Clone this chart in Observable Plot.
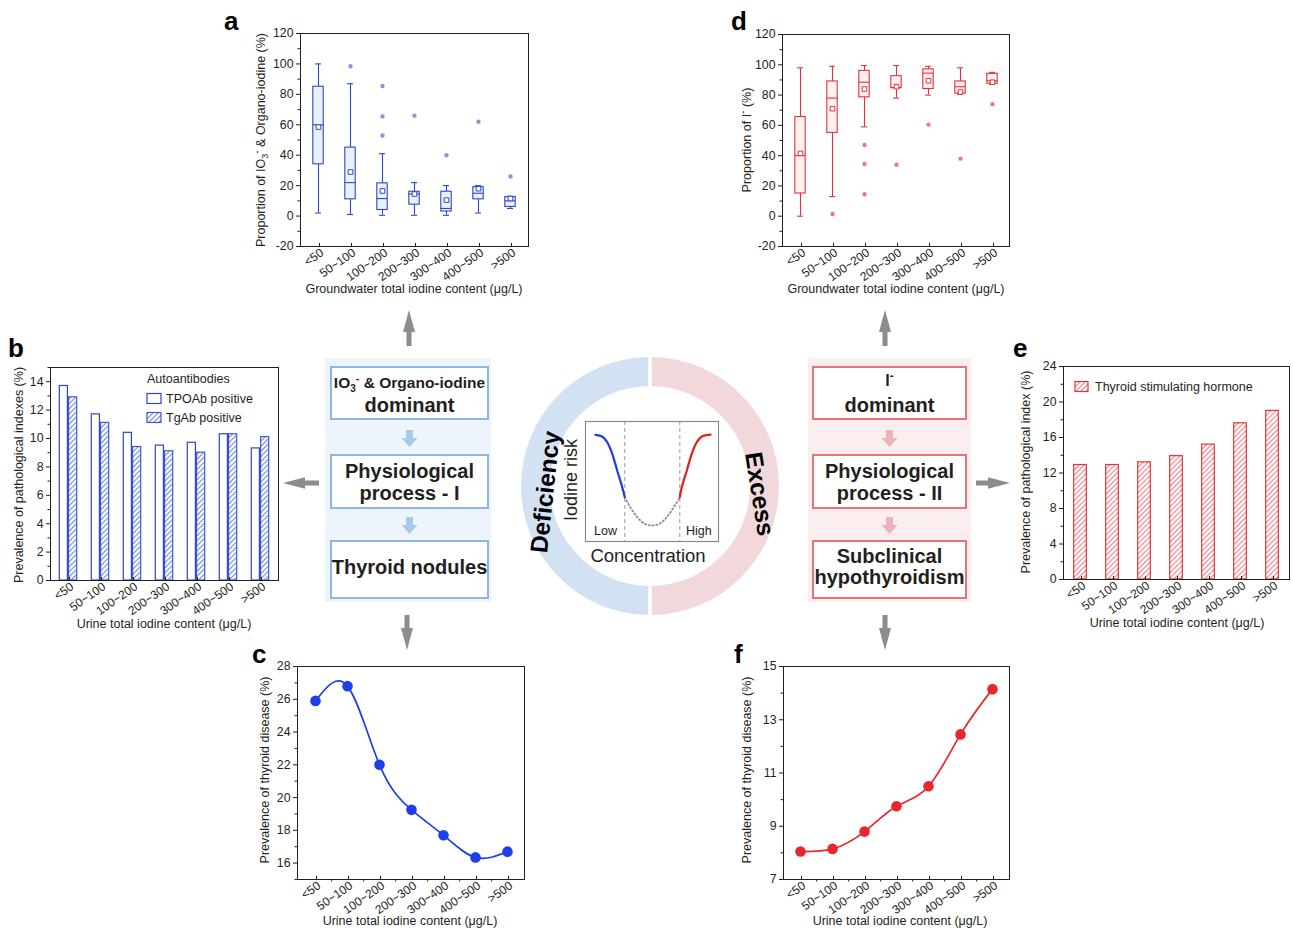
<!DOCTYPE html>
<html><head><meta charset="utf-8">
<script src="https://cdn.jsdelivr.net/npm/d3@7"></script>
<script src="https://cdn.jsdelivr.net/npm/@observablehq/plot@0.6"></script>
<style>
body{margin:0;background:#fff;}
#fig{position:relative;width:1293px;height:931px;overflow:hidden;background:#fff;}
</style></head><body>
<div id="fig"></div>
<script>
// ---------------- data ----------------
const groups = ["<50","50~100","100~200","200~300","300~400","400~500",">500"];

// panel a: IO3- & organo-iodine proportion (%), box summaries
const aMin  = [2, 1, 0.5, 0.5, 0.5, 2, 5];
const aQ1   = [34, 11, 4, 7.5, 3, 11, 6];
const aMed  = [60, 22, 11.5, 14.5, 5, 15, 10];
const aQ3   = [85, 45, 21.5, 16, 16, 19, 12.5];
const aMax  = [100, 87, 41, 22, 20, 20, 13];
const aMean = [58.5, 29, 16.5, 14.5, 10.5, 18, 11.5];
const aOutGroup = ["50~100","100~200","100~200","100~200","200~300","300~400","400~500",">500"];
const aOutValue = [98.5, 85.5, 65.5, 53, 66, 40, 62, 26];

// panel d: I- proportion (%)
const dMin  = [0, 13, 59, 78, 80, 80.5, 87];
const dQ1   = [15, 55, 78.5, 84.5, 84, 81, 87.5];
const dMed  = [40, 78, 88.5, 85, 94.5, 85.5, 89.5];
const dQ3   = [65.5, 89, 96, 92.5, 97, 89, 94];
const dMax  = [98, 99, 99.5, 99.5, 99, 98, 95];
const dMean = [41.5, 71, 84, 85.5, 89.5, 82, 88.5];
const dOutGroup = ["50~100","100~200","100~200","100~200","200~300","300~400","400~500",">500"];
const dOutValue = [1.5, 47, 34.5, 14.5, 34, 60.5, 38, 74];

// panel b: autoantibodies (%)
const tpoab = [13.7, 11.7, 10.4, 9.5, 9.7, 10.3, 9.3];
const tgab  = [12.9, 11.1, 9.4, 9.1, 9.0, 10.3, 10.1];

// panel e: TSH (%)
const tsh = [12.9, 12.9, 13.2, 13.9, 15.2, 17.6, 19.0];

// panel c / f: prevalence of thyroid disease (%)
const cPrev = [25.9, 26.8, 22.0, 19.25, 17.7, 16.35, 16.7];
const fPrev = [8.05, 8.15, 8.8, 9.75, 10.5, 12.45, 14.15];

// tick values
const ticksAD = [-20, 0, 20, 40, 60, 80, 100, 120];
const minorAD = [-10, 10, 30, 50, 70, 90, 110];
const ticksB = [0, 2, 4, 6, 8, 10, 12, 14];
const minorB = [1, 3, 5, 7, 9, 11, 13, 15];
const ticksE = [0, 4, 8, 12, 16, 20, 24];
const minorE = [2, 6, 10, 14, 18, 22];
const ticksC = [16, 18, 20, 22, 24, 26, 28];
const minorC = [15, 17, 19, 21, 23, 25, 27];
const ticksF = [7, 9, 11, 13, 15];
const minorF = [8, 10, 12, 14];

// schematic risk curve (concentration vs. iodine risk)
const riskLowX  = [7.5, 12.5, 16.3, 20.1, 23.8, 27.6, 29.5];
const riskLowY  = [88.9, 87.5, 82.8, 73.1, 59.2, 45.3, 37];
const riskMidX  = [29.5, 34, 38.8, 44, 50, 56, 61.2, 66, 70.9];
const riskMidY  = [37, 28, 20.5, 15, 13.3, 15, 20.5, 28, 37];
const riskHighX = [70.9, 72.4, 76.2, 79.9, 83.7, 87.5, 92.5, 94];
const riskHighY = [37, 45.3, 59.2, 73.1, 82.8, 87.5, 88.9, 89];
const thresholds = [29.5, 70.9];

// ---------------- helpers ----------------
const font = '"Liberation Sans", Arial, Helvetica, sans-serif';
const ink = "#231f20";
const fig = document.getElementById("fig");
function baseStyle(){ return {fontFamily: font, fontSize: "12.3px", color: ink, background: "transparent", overflow: "visible"}; }
function place(el, left, top, w, h){
  const d = document.createElement("div");
  d.style.cssText = `position:absolute;left:${left}px;top:${top}px;width:${w}px;height:${h}px;`;
  d.appendChild(el); fig.appendChild(d);
}
const zip = (xs, ys) => xs.map((x, i) => ({x, y: ys[i]}));

// overlay svg (below plots)
const ov = d3.select(fig).append("svg")
  .attr("width", 1293).attr("height", 931)
  .style("position", "absolute").style("left", 0).style("top", 0)
  .style("font-family", font).attr("fill", ink);
const defs = ov.append("defs");
function hatch(id, color, bg){
  const p = defs.append("pattern").attr("id", id).attr("patternUnits", "userSpaceOnUse")
    .attr("width", 3.6).attr("height", 3.6).attr("patternTransform", "rotate(45)");
  p.append("rect").attr("width", 3.6).attr("height", 3.6).attr("fill", bg);
  p.append("line").attr("x1", 0.6).attr("y1", 0).attr("x2", 0.6).attr("y2", 3.6).attr("stroke", color).attr("stroke-width", 1.1);
}
hatch("hatchB", "#6f82de", "#ffffff");
hatch("hatchR", "#ee7d83", "#ffffff");

function axesFor(major, minor, xMinorShift){
  const m = [
    Plot.axisY({ticks: major, tickSize: 4, tickPadding: 3, tickFormat: d => String(d), label: null}),
    Plot.axisY({ticks: minor, tickSize: 2.5, tickFormat: () => "", label: null}),
    Plot.axisX({tickSize: 4, tickPadding: 0, tickRotate: -35, lineAnchor: "top", dx: 1, dy: -3, fontSize: 12, label: null}),
    Plot.frame({stroke: ink})
  ];
  if (xMinorShift) m.push(Plot.axisX({ticks: groups.slice(0, 6), tickSize: 2.5, tickFormat: () => "", dx: xMinorShift, label: null}));
  return m;
}

// ---------------- box panels a & d ----------------
function boxPlot(opt){
  const rows = groups.map((g, i) => ({g, lo: opt.lo[i], q1: opt.q1[i], med: opt.med[i], q3: opt.q3[i], hi: opt.hi[i], mean: opt.mean[i]}));
  const outs = opt.outG.map((g, i) => ({g, v: opt.outV[i]}));
  const s = opt.stroke;
  return Plot.plot({
    width: opt.width, height: opt.height,
    marginLeft: opt.ml, marginRight: opt.mr, marginTop: opt.mt, marginBottom: opt.mb,
    style: baseStyle(),
    x: {type: "band", domain: groups, padding: 0},
    y: {domain: [-20, 120]},
    marks: [
      Plot.ruleX(rows, {x: "g", y1: "lo", y2: "q1", stroke: s, strokeWidth: 1.1}),
      Plot.ruleX(rows, {x: "g", y1: "q3", y2: "hi", stroke: s, strokeWidth: 1.1}),
      Plot.tickY(rows, {x: "g", y: "lo", stroke: s, insetLeft: 13, insetRight: 13, strokeWidth: 1.1}),
      Plot.tickY(rows, {x: "g", y: "hi", stroke: s, insetLeft: 13, insetRight: 13, strokeWidth: 1.1}),
      Plot.barY(rows, {x: "g", y1: "q1", y2: "q3", fill: opt.fill, stroke: s, strokeWidth: 1.1, insetLeft: 10.8, insetRight: 10.8}),
      Plot.tickY(rows, {x: "g", y: "med", stroke: s, insetLeft: 10.8, insetRight: 10.8, strokeWidth: 1.1}),
      Plot.dot(rows, {x: "g", y: "mean", symbol: "square", r: 2.6, fill: "white", stroke: s, strokeWidth: 1}),
      Plot.dot(outs, {x: "g", y: "v", r: 2.2, fill: opt.outFill}),
      ...axesFor(ticksAD, minorAD)
    ]
  });
}
place(boxPlot({width: 320, height: 290, ml: 80, mr: 12, mt: 13, mb: 64,
  lo: aMin, q1: aQ1, med: aMed, q3: aQ3, hi: aMax, mean: aMean, outG: aOutGroup, outV: aOutValue,
  stroke: "#3047c9", fill: "#e7f3fb", outFill: "#7d9be3"}), 220, 20, 320, 290);
place(boxPlot({width: 320, height: 290, ml: 82, mr: 11, mt: 14, mb: 64,
  lo: dMin, q1: dQ1, med: dMed, q3: dQ3, hi: dMax, mean: dMean, outG: dOutGroup, outV: dOutValue,
  stroke: "#e4323c", fill: "#fdf0f0", outFill: "#e77b82"}), 700, 20, 320, 290);

// ---------------- panel b ----------------
const bRows = groups.map((g, i) => ({g, tpo: tpoab[i], tg: tgab[i]}));
place(Plot.plot({
  width: 290, height: 290, marginLeft: 50, marginRight: 12, marginTop: 12, marginBottom: 65,
  style: baseStyle(),
  x: {type: "band", domain: groups, padding: 0},
  y: {domain: [0, 15]},
  marks: [
    Plot.barY(bRows, {x: "g", y: "tpo", fill: "white", stroke: "#2f45c8", strokeWidth: 1.2, insetLeft: 7.3, insetRight: 16.6}),
    Plot.barY(bRows, {x: "g", y: "tg", fill: "url(#hatchB)", stroke: "#4257d0", strokeWidth: 1.2, insetLeft: 16.6, insetRight: 7.3}),
    ...axesFor(ticksB, minorB)
  ]
}), 0, 355, 290, 290);

// ---------------- panel e ----------------
const eRows = groups.map((g, i) => ({g, v: tsh[i]}));
place(Plot.plot({
  width: 293, height: 290, marginLeft: 63, marginRight: 4, marginTop: 11, marginBottom: 66,
  style: baseStyle(),
  x: {type: "band", domain: groups, padding: 0},
  y: {domain: [0, 24]},
  marks: [
    Plot.barY(eRows, {x: "g", y: "v", fill: "url(#hatchR)", stroke: "#e5323b", strokeWidth: 1.2, insetLeft: 9.7, insetRight: 9.7}),
    ...axesFor(ticksE, minorE)
  ]
}), 1000, 355, 293, 290);

// ---------------- panels c & f ----------------
function linePlot(vals, domain, major, minor, color, w, ml){
  const rows = groups.map((g, i) => ({g, v: vals[i]}));
  const half = (w - ml - 11) / 7 / 2;
  return Plot.plot({
    width: w, height: 276, marginLeft: ml, marginRight: 11, marginTop: 11, marginBottom: 52,
    style: baseStyle(),
    x: {type: "band", domain: groups, padding: 0},
    y: {domain},
    marks: [
      Plot.line(rows, {x: "g", y: "v", stroke: color, strokeWidth: 1.7, curve: "natural"}),
      Plot.dot(rows, {x: "g", y: "v", r: 5.3, fill: color}),
      ...axesFor(major, minor, half)
    ]
  });
}
place(linePlot(cPrev, [15, 28], ticksC, minorC, "#1f3fe6", 305, 67), 230, 655, 305, 276);
place(linePlot(fPrev, [7, 15], ticksF, minorF, "#e8262e", 310, 73), 710, 655, 310, 276);

// ---------------- schematic inner plot ----------------
place(Plot.plot({
  width: 133, height: 120, margin: 0,
  style: {background: "transparent", overflow: "visible"},
  x: {domain: [0, 100], axis: null},
  y: {domain: [0, 100], axis: null},
  marks: [
    Plot.ruleX(thresholds, {stroke: "#9a9a9a", strokeDasharray: "4,3", strokeWidth: 1}),
    Plot.line(zip(riskMidX, riskMidY), {x: "x", y: "y", stroke: "#8a8a8a", strokeWidth: 1.8, strokeDasharray: "1.2,2.6", curve: "catmull-rom"}),
    Plot.line(zip(riskLowX, riskLowY), {x: "x", y: "y", stroke: "#1f3fe0", strokeWidth: 2.2, curve: "catmull-rom"}),
    Plot.line(zip(riskHighX, riskHighY), {x: "x", y: "y", stroke: "#e0201e", strokeWidth: 2.2, curve: "catmull-rom"}),
    Plot.frame({stroke: "#8a8a8a", strokeWidth: 1.2})
  ]
}), 585, 421, 133, 120);

// ---------------- overlay drawing ----------------
// panel letters
[["a", 224, 30], ["d", 731, 30], ["b", 8, 357], ["e", 1013, 357], ["c", 252, 663], ["f", 734, 663]].forEach(([t, x, y]) => {
  ov.append("text").attr("x", x).attr("y", y).attr("font-size", 26).attr("font-weight", "bold").attr("fill", "#000").text(t);
});

// x axis titles
[["Groundwater total iodine content (\u03bcg/L)", 414, 293],
 ["Groundwater total iodine content (\u03bcg/L)", 896, 293],
 ["Urine total iodine content (\u03bcg/L)", 164, 628],
 ["Urine total iodine content (\u03bcg/L)", 1177, 627],
 ["Urine total iodine content (\u03bcg/L)", 410, 925],
 ["Urine total iodine content (\u03bcg/L)", 900, 925]].forEach(([t, x, y]) => {
  ov.append("text").attr("x", x).attr("y", y).attr("text-anchor", "middle").attr("font-size", 12.5).text(t);
});

// y axis titles
function yTitle(x, y, parts){
  const t = ov.append("text").attr("transform", `translate(${x},${y}) rotate(-90)`).attr("text-anchor", "middle").attr("font-size", 12.5);
  parts.forEach(p => { const s = t.append("tspan").text(p.t); if (p.dy) s.attr("dy", p.dy); if (p.fs) s.attr("font-size", p.fs); });
}
yTitle(264.5, 140, [{t: "Proportion of IO"}, {t: "3", dy: 3, fs: 9}, {t: "-", dy: -8, fs: 10}, {t: " & Organo-iodine (%)", dy: 5}]);
yTitle(750.5, 140, [{t: "Proportion of I"}, {t: "-", dy: -5, fs: 10}, {t: " (%)", dy: 5}]);
yTitle(22.5, 475, [{t: "Prevalence of pathological indexes (%)"}]);
yTitle(1029.5, 472, [{t: "Prevalence of pathological index (%)"}]);
yTitle(268.5, 770, [{t: "Prevalence of thyroid disease (%)"}]);
yTitle(750.5, 770, [{t: "Prevalence of thyroid disease (%)"}]);

// legends
ov.append("text").attr("x", 147).attr("y", 383).attr("font-size", 12.5).text("Autoantibodies");
ov.append("rect").attr("x", 147).attr("y", 393.5).attr("width", 14).attr("height", 10).attr("fill", "white").attr("stroke", "#2f45c8").attr("stroke-width", 1.2);
ov.append("text").attr("x", 166).attr("y", 403).attr("font-size", 12.5).text("TPOAb positive");
ov.append("rect").attr("x", 147).attr("y", 412.5).attr("width", 14).attr("height", 10).attr("fill", "url(#hatchB)").attr("stroke", "#4257d0").attr("stroke-width", 1.2);
ov.append("text").attr("x", 166).attr("y", 422).attr("font-size", 12.5).text("TgAb positive");
ov.append("rect").attr("x", 1075).attr("y", 381.5).attr("width", 13).attr("height", 10).attr("fill", "url(#hatchR)").attr("stroke", "#e5323b").attr("stroke-width", 1.2);
ov.append("text").attr("x", 1095).attr("y", 391).attr("font-size", 12.5).text("Thyroid stimulating hormone");

// arrows
function arrow(x1, y1, x2, y2, sw, hw, hl, color){
  const L = Math.hypot(x2 - x1, y2 - y1), ux = (x2 - x1) / L, uy = (y2 - y1) / L, nx = -uy, ny = ux;
  const bx = x2 - ux * hl, by = y2 - uy * hl;
  const pts = [
    [x1 + nx * sw / 2, y1 + ny * sw / 2], [bx + nx * sw / 2, by + ny * sw / 2], [bx + nx * hw / 2, by + ny * hw / 2],
    [x2, y2], [bx - nx * hw / 2, by - ny * hw / 2], [bx - nx * sw / 2, by - ny * sw / 2], [x1 - nx * sw / 2, y1 - ny * sw / 2]];
  ov.append("polygon").attr("points", pts.map(p => p.join(",")).join(" ")).attr("fill", color);
}
const gray = "#8c8c8c";
arrow(409, 346, 409, 310, 5, 12, 22, gray);
arrow(407, 615, 407, 650, 5, 12, 22, gray);
arrow(319, 483, 283, 483, 5, 11.5, 22, gray);
arrow(885, 346, 885, 310, 5, 12, 22, gray);
arrow(885, 615, 885, 650, 5, 12, 22, gray);
arrow(976, 483, 1010, 483, 5, 11.5, 22, gray);

// flowcharts
ov.append("rect").attr("x", 325).attr("y", 358).attr("width", 166).attr("height", 244).attr("fill", "#eef4fc");
ov.append("rect").attr("x", 808).attr("y", 358).attr("width", 163).attr("height", 244).attr("fill", "#fbeeee");
function box(x, y, w, h, color){
  ov.append("rect").attr("x", x).attr("y", y).attr("width", w).attr("height", h).attr("fill", "white").attr("stroke", color).attr("stroke-width", 2);
}
const lb = "#8fb5e2", rb = "#e5737a";
box(331, 367, 157, 52, lb); box(331, 455, 157, 53, lb); box(331, 541, 157, 57, lb);
box(813, 367, 153, 52, rb); box(813, 455, 153, 53, rb); box(813, 541, 153, 57, rb);
arrow(409.5, 430, 409.5, 447, 7, 16, 9, "#a9c9ea");
arrow(409.5, 517, 409.5, 534, 7, 16, 9, "#a9c9ea");
arrow(889.5, 430, 889.5, 447, 7, 16, 9, "#eab3ba");
arrow(889.5, 517, 889.5, 534, 7, 16, 9, "#eab3ba");

function btext(x, y, fs, parts){
  const t = ov.append("text").attr("x", x).attr("y", y).attr("text-anchor", "middle").attr("font-weight", "bold").attr("font-size", fs);
  parts.forEach(p => { const s = t.append("tspan").text(p.t); if (p.dy) s.attr("dy", p.dy); if (p.fs) s.attr("font-size", p.fs); });
}
btext(409.5, 387.5, 15.5, [{t: "IO"}, {t: "3", dy: 4, fs: 10}, {t: "-", dy: -10, fs: 11}, {t: " & Organo-iodine", dy: 6}]);
btext(409.5, 412, 20, [{t: "dominant"}]);
btext(409.5, 478, 20, [{t: "Physiological"}]);
btext(409.5, 500, 20, [{t: "process - I"}]);
btext(409.5, 574, 20, [{t: "Thyroid nodules"}]);
btext(889.5, 386, 16, [{t: "I"}, {t: "-", dy: -6, fs: 12}]);
btext(889.5, 412, 20, [{t: "dominant"}]);
btext(889.5, 478, 20, [{t: "Physiological"}]);
btext(889.5, 500, 20, [{t: "process - II"}]);
btext(889.5, 563, 20, [{t: "Subclinical"}]);
btext(889.5, 584, 20, [{t: "hypothyroidism"}]);

// ring
const ring = d3.arc().innerRadius(100).outerRadius(129).padAngle(0.027).padRadius(130);
const rg = ov.append("g").attr("transform", "translate(650,486)");
rg.append("path").attr("d", ring({startAngle: Math.PI, endAngle: 2 * Math.PI})).attr("fill", "#d2e2f3");
rg.append("path").attr("d", ring({startAngle: 0, endAngle: Math.PI})).attr("fill", "#f3d8db");
ov.append("text").attr("transform", "translate(545,492) rotate(-84)").attr("text-anchor", "middle").attr("dominant-baseline", "central")
  .attr("font-size", 24.5).attr("font-weight", "bold").attr("fill", "#000").text("Deficiency");
ov.append("text").attr("transform", "translate(760,494) rotate(81)").attr("text-anchor", "middle").attr("dominant-baseline", "central")
  .attr("font-size", 24.5).attr("font-weight", "bold").attr("fill", "#000").text("Excess");
ov.append("text").attr("transform", "translate(576.5,480) rotate(-90)").attr("text-anchor", "middle").attr("font-size", 18).text("Iodine risk");
ov.append("text").attr("x", 648).attr("y", 562).attr("text-anchor", "middle").attr("font-size", 18.5).text("Concentration");
ov.append("text").attr("x", 594).attr("y", 535).attr("font-size", 12.5).text("Low");
ov.append("text").attr("x", 686).attr("y", 535).attr("font-size", 12.5).text("High");
</script>
</body></html>
